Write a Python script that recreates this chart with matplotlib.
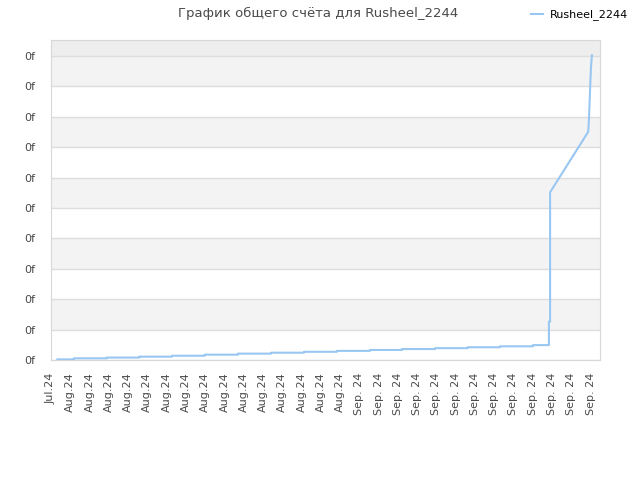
import matplotlib
matplotlib.use('Agg')
import matplotlib.pyplot as plt

# ступенчатая часть: границы ступеней (в делениях оси x) и уровни
step_x = [0.33, 1.19, 2.89, 4.58, 6.28, 7.98, 9.70, 11.42, 13.13, 14.84,
          16.55, 18.21, 19.93, 21.62, 23.30, 25.01, 25.84]
step_y = [0.02, 0.055, 0.08, 0.11, 0.14, 0.175, 0.21, 0.24, 0.27, 0.30,
          0.33, 0.36, 0.39, 0.42, 0.45, 0.49]

# хвост после скачка
tail_x = [25.84, 25.84, 25.90, 25.90, 27.88, 27.92, 27.97, 28.02, 28.07]
tail_y = [0.49, 1.26, 1.26, 5.52, 7.51, 7.96, 8.83, 9.61, 10.03]

tick_labels = ["Jul.24"] + ["Aug.24"] * 15 + ["Sep. 24"] * 13
y_ticks = list(range(11))

line_color = "#99c7f2"
text_color = "#4a4a4a"

fig = plt.figure(figsize=(6.4, 4.8), dpi=100)
ax = fig.add_axes([51 / 640, 120 / 480, 549 / 640, 320 / 480])

# полосы фона
ax.set_facecolor("white")
for i in range(1, 10, 2):
    ax.axhspan(i, i + 1, color="#f3f3f3", zorder=0, lw=0)
ax.axhspan(10, 10.53, color="#eeeeee", zorder=0, lw=0)

# линия
xs = []
ys = []
for i, lvl in enumerate(step_y):
    xs += [step_x[i], step_x[i + 1]]
    ys += [lvl, lvl]
xs += tail_x
ys += tail_y
ax.plot(xs, ys, color=line_color, lw=1.5, zorder=3, label="Rusheel_2244")

ax.set_xlim(0, 28.49)
ax.set_ylim(0, 10.53)

ax.set_yticks(y_ticks)
ax.set_yticklabels(["0f"] * len(y_ticks), fontsize=8, color=text_color)
ax.set_xticks(range(len(tick_labels)))
ax.set_xticklabels(tick_labels, rotation=90, fontsize=8, color=text_color)
ax.tick_params(length=0, pad=11)
ax.tick_params(axis='x', pad=9)

ax.grid(axis='y', color="#dddddd", lw=1, zorder=1)
ax.set_axisbelow(True)
for s in ax.spines.values():
    s.set_color("#d8d8d8")

fig.text(0.497, 0.972, "График общего счёта для Rusheel_2244", ha="center",
         va="center", fontsize=9.5, color="#4a4a4a")
fig.legend(loc="center left", bbox_to_anchor=(527 / 640, 1 - 15 / 480), frameon=False,
           fontsize=8, handlelength=1.0, handletextpad=0.7, borderaxespad=0)

plt.savefig("out.png", dpi=100)
